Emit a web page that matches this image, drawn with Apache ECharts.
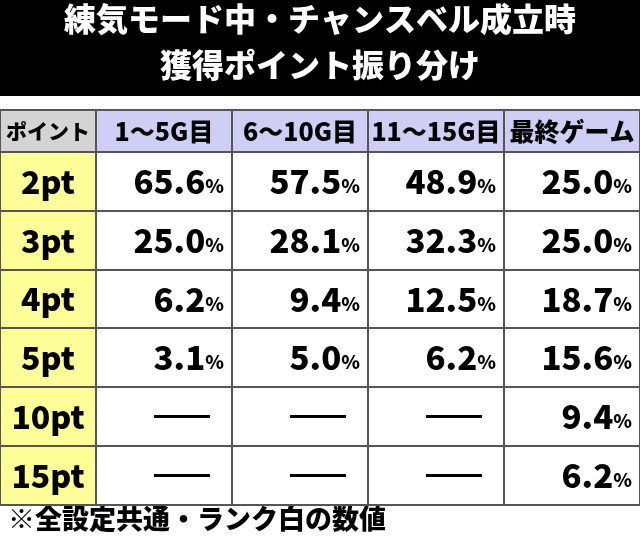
<!DOCTYPE html>
<html><head><meta charset="utf-8">
<script src="https://cdn.jsdelivr.net/npm/echarts@6/dist/echarts.min.js"></script>
<style>html,body{margin:0;padding:0;background:#fff}#c{width:640px;height:541px}</style>
</head><body><div id="c"></div>
<script>
// 表のデータ
const titleLines = ['練気モード中・チャンスベル成立時', '獲得ポイント振り分け']
const headers = ['ポイント', '1～5G目', '6～10G目', '11～15G目', '最終ゲーム']
const points = ['2pt', '3pt', '4pt', '5pt', '10pt', '15pt']
const g1to5 = [65.6, 25.0, 6.2, 3.1, null, null]
const g6to10 = [57.5, 28.1, 9.4, 5.0, null, null]
const g11to15 = [48.9, 32.3, 12.5, 6.2, null, null]
const lastGame = [25.0, 25.0, 18.7, 15.6, 9.4, 6.2]
const note = '※全設定共通・ランク白の数値'

const colEdges = [0, 96, 232, 368, 504, 640]
const rowEdges = [0, 42, 101, 160, 218, 277, 336, 395]
const FONT = '"Noto Sans CJK JP", sans-serif'

const cols = [g1to5, g6to10, g11to15, lastGame]
const cells = []
headers.forEach((h, c) => cells.push([c, 0, h]))
points.forEach((p, r) => {
	cells.push([0, r + 1, p])
	cols.forEach((arr, c) => cells.push([c + 1, r + 1, arr[r] == null ? '' : arr[r].toFixed(1)]))
})

const myChart = echarts.init(document.getElementById('c'))
const option = {
	animation: false,
	graphic: [
		{ type: 'rect', shape: { x: 0, y: 0, width: 640, height: 96 }, style: { fill: '#000' } },
		{ type: 'text', left: 'center', top: 3, style: { text: titleLines[0], fill: '#fff', font: '900 32px ' + FONT } },
		{ type: 'text', left: 'center', top: 49, style: { text: titleLines[1], fill: '#fff', font: '900 32px ' + FONT } },
		{ type: 'text', left: 8, top: 505, style: { text: note, fill: '#000', font: '900 27px ' + FONT } }
	],
	grid: { left: 0, right: 0, top: 110, height: 395 },
	xAxis: { type: 'value', min: 0, max: 640, show: false },
	yAxis: { type: 'value', min: 0, max: 395, inverse: true, show: false },
	series: [{
		type: 'custom',
		data: cells,
		renderItem: function (params, api) {
			const c = api.value(0), r = api.value(1)
			const txt = cells[params.dataIndex][2]
			const p0 = api.coord([colEdges[c], rowEdges[r]])
			const p1 = api.coord([colEdges[c + 1], rowEdges[r + 1]])
			const w = p1[0] - p0[0], h = p1[1] - p0[1]
			let fill = '#fff'
			if (r === 0) fill = c === 0 ? '#d4d4d4' : '#cfcff5'
			else if (c === 0) fill = '#ffff99'
			const children = [{
				type: 'rect', shape: { x: p0[0], y: p0[1], width: w, height: h },
				style: { fill: fill, stroke: '#555', lineWidth: 2 }
			}]
			if (r === 0) {
				children.push({ type: 'text', x: p0[0] + w / 2, y: p0[1] + h / 2,
					style: { text: txt, fill: '#000', font: '900 ' + (c === 0 ? 21 : 25) + 'px ' + FONT, align: 'center', verticalAlign: 'middle' } })
			} else if (c === 0) {
				children.push({ type: 'text', x: p0[0] + w / 2, y: p0[1] + h / 2,
					style: { text: txt, fill: '#000', font: '900 32px ' + FONT, align: 'center', verticalAlign: 'middle' } })
			} else if (txt === '') {
				children.push({ type: 'rect', shape: { x: p0[0] + w - 78, y: p0[1] + h / 2 - 1.5, width: 56, height: 3 }, style: { fill: '#000' } })
			} else {
				children.push({ type: 'text', x: p0[0] + w - 8, y: p0[1] + h / 2,
					style: { text: '{v|' + txt + '}{p|%}', align: 'right', verticalAlign: 'middle',
						rich: { v: { font: '900 33px ' + FONT, fill: '#000' }, p: { font: '900 19px ' + FONT, fill: '#000', padding: [9, 0, 0, 0] } } } })
			}
			return { type: 'group', children: children }
		}
	}]
}
myChart.setOption(option)
</script></body></html>
